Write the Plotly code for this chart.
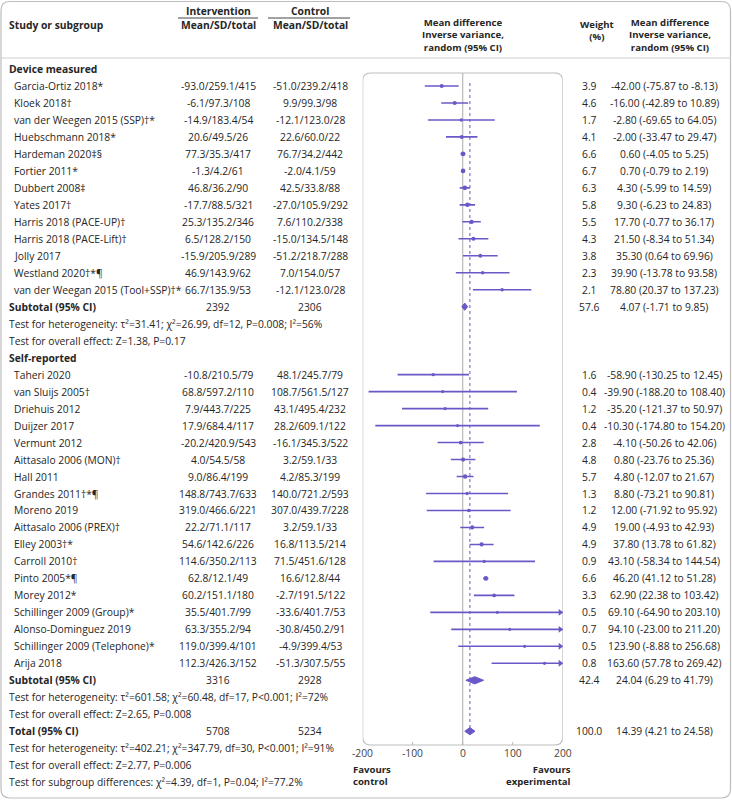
import plotly.graph_objects as go

W, H = 732, 800
FONT = "Open Sans"
FS = 10.3
FS_H = 9.6
TXT = "#262626"
PURPLE = "#6b58c8"

# ---------------- data ----------------
dev_names = ["Garcia-Ortiz 2018*", "Kloek 2018†", "van der Weegen 2015 (SSP)†*", "Huebschmann 2018*",
             "Hardeman 2020‡§", "Fortier 2011*", "Dubbert 2008‡", "Yates 2017†", "Harris 2018 (PACE-UP)†",
             "Harris 2018 (PACE-Lift)†", "Jolly 2017", "Westland 2020†*¶", "van der Weegan 2015 (Tool+SSP)†*"]
dev_int_mean = [-93.0, -6.1, -14.9, 20.6, 77.3, -1.3, 46.8, -17.7, 25.3, 6.5, -15.9, 46.9, 66.7]
dev_int_sd = [259.1, 97.3, 183.4, 49.5, 35.3, 4.2, 36.2, 88.5, 135.2, 128.2, 205.9, 143.9, 135.9]
dev_int_n = [415, 108, 54, 26, 417, 61, 90, 321, 346, 150, 289, 62, 53]
dev_ctl_mean = [-51.0, 9.9, -12.1, 22.6, 76.7, -2.0, 42.5, -27.0, 7.6, -15.0, -51.2, 7.0, -12.1]
dev_ctl_sd = [239.2, 99.3, 123.0, 60.0, 34.2, 4.1, 33.8, 105.9, 110.2, 134.5, 218.7, 154.0, 123.0]
dev_ctl_n = [418, 98, 28, 22, 442, 59, 88, 292, 338, 148, 288, 57, 28]
dev_weight = [3.9, 4.6, 1.7, 4.1, 6.6, 6.7, 6.3, 5.8, 5.5, 4.3, 3.8, 2.3, 2.1]
dev_md = [-42.00, -16.00, -2.80, -2.00, 0.60, 0.70, 4.30, 9.30, 17.70, 21.50, 35.30, 39.90, 78.80]
dev_lo = [-75.87, -42.89, -69.65, -33.47, -4.05, -0.79, -5.99, -6.23, -0.77, -8.34, 0.64, -13.78, 20.37]
dev_hi = [-8.13, 10.89, 64.05, 29.47, 5.25, 2.19, 14.59, 24.83, 36.17, 51.34, 69.96, 93.58, 137.23]
dev_sub = dict(n_int=2392, n_ctl=2306, weight=57.6, md=4.07, lo=-1.71, hi=9.85)
dev_het = "Test for heterogeneity: τ²=31.41; χ²=26.99, df=12, P=0.008; I²=56%"
dev_eff = "Test for overall effect: Z=1.38, P=0.17"

sr_names = ["Taheri 2020", "van Sluijs 2005†", "Driehuis 2012", "Duijzer 2017", "Vermunt 2012",
            "Aittasalo 2006 (MON)†", "Hall 2011", "Grandes 2011†*¶", "Moreno 2019", "Aittasalo 2006 (PREX)†",
            "Elley 2003†*", "Carroll 2010†", "Pinto 2005*¶", "Morey 2012*", "Schillinger 2009 (Group)*",
            "Alonso-Dominguez 2019", "Schillinger 2009 (Telephone)*", "Arija 2018"]
sr_int_mean = [-10.8, 68.8, 7.9, 17.9, -20.2, 4.0, 9.0, 148.8, 319.0, 22.2, 54.6, 114.6, 62.8, 60.2, 35.5, 63.3, 119.0, 112.3]
sr_int_sd = [210.5, 597.2, 443.7, 684.4, 420.9, 54.5, 86.4, 743.7, 466.6, 71.1, 142.6, 350.2, 12.1, 151.1, 401.7, 355.2, 399.4, 426.3]
sr_int_n = [79, 110, 225, 117, 543, 58, 199, 633, 221, 117, 226, 113, 49, 180, 99, 94, 101, 152]
sr_ctl_mean = [48.1, 108.7, 43.1, 28.2, -16.1, 3.2, 4.2, 140.0, 307.0, 3.2, 16.8, 71.5, 16.6, -2.7, -33.6, -30.8, -4.9, -51.3]
sr_ctl_sd = [245.7, 561.5, 495.4, 609.1, 345.3, 59.1, 85.3, 721.2, 439.7, 59.1, 113.5, 451.6, 12.8, 191.5, 401.7, 450.2, 399.4, 307.5]
sr_ctl_n = [79, 127, 232, 122, 522, 33, 199, 593, 228, 33, 214, 128, 44, 122, 53, 91, 53, 55]
sr_weight = [1.6, 0.4, 1.2, 0.4, 2.8, 4.8, 5.7, 1.3, 1.2, 4.9, 4.9, 0.9, 6.6, 3.3, 0.5, 0.7, 0.5, 0.8]
sr_md = [-58.90, -39.90, -35.20, -10.30, -4.10, 0.80, 4.80, 8.80, 12.00, 19.00, 37.80, 43.10, 46.20, 62.90, 69.10, 94.10, 123.90, 163.60]
sr_lo = [-130.25, -188.20, -121.37, -174.80, -50.26, -23.76, -12.07, -73.21, -71.92, -4.93, 13.78, -58.34, 41.12, 22.38, -64.90, -23.00, -8.88, 57.78]
sr_hi = [12.45, 108.40, 50.97, 154.20, 42.06, 25.36, 21.67, 90.81, 95.92, 42.93, 61.82, 144.54, 51.28, 103.42, 203.10, 211.20, 256.68, 269.42]
sr_sub = dict(n_int=3316, n_ctl=2928, weight=42.4, md=24.04, lo=6.29, hi=41.79)
sr_het = "Test for heterogeneity: τ²=601.58; χ²=60.48, df=17, P<0.001; I²=72%"
sr_eff = "Test for overall effect: Z=2.65, P=0.008"

total = dict(n_int=5708, n_ctl=5234, weight=100.0, md=14.39, lo=4.21, hi=24.58)
tot_het = "Test for heterogeneity: τ²=402.21; χ²=347.79, df=30, P<0.001; I²=91%"
tot_eff = "Test for overall effect: Z=2.77, P=0.006"
subgroup_diff = "Test for subgroup differences: χ²=4.39, df=1, P=0.04; I²=77.2%"

x_ticks = [-200, -100, 0, 100, 200]
x_min, x_max = -200, 200

# ---------------- layout helpers ----------------
Y0, PITCH = 69.0, 16.98
def ry(r):
    return Y0 + PITCH * r

def px(x):
    return x / W

annots = []
def text(x, y, s, anchor="left", bold=False, size=FS, color=TXT, align="left"):
    annots.append(dict(x=px(x), y=y, xref="paper", yref="y", text=("<b>%s</b>" % s) if bold else s,
                       showarrow=False, xanchor=anchor, yanchor="middle", align=align,
                       font=dict(family=FONT, size=size, color=color)))

X_NAME, X_HEAD, X_INT, X_CTL, X_W, X_EST = 12, 7, 218, 310, 589, 664

fig = go.Figure()

def fmt_est(m, l, h):
    return "%.2f (%.2f to %.2f)" % (m, l, h)

def add_studies(start_row, names, im, isd, inn, cm, csd, cn, w, md, lo, hi):
    for i, nm in enumerate(names):
        r = start_row + i
        y = ry(r)
        text(X_NAME, y, nm)
        text(X_INT, y, "%.1f/%.1f/%d" % (im[i], isd[i], inn[i]), anchor="center")
        text(X_CTL, y, "%.1f/%.1f/%d" % (cm[i], csd[i], cn[i]), anchor="center")
        text(X_W, y, "%.1f" % w[i], anchor="center")
        text(X_EST, y, fmt_est(md[i], lo[i], hi[i]), anchor="center")
        h = min(hi[i], x_max)
        l = max(lo[i], x_min)
        fig.add_trace(go.Scatter(x=[l, h], y=[y, y], mode="lines",
                                 line=dict(color=PURPLE, width=1.6), hoverinfo="skip", showlegend=False))
        fig.add_trace(go.Scatter(x=[md[i]], y=[y], mode="markers",
                                 marker=dict(color=PURPLE, size=3 + 0.25 * w[i], symbol="circle"),
                                 hoverinfo="skip", showlegend=False))
        if hi[i] > x_max:
            fig.add_trace(go.Scatter(x=[x_max - 5], y=[y], mode="markers",
                                     marker=dict(color=PURPLE, size=6, symbol="triangle-right"),
                                     hoverinfo="skip", showlegend=False))

def add_summary(r, label, d):
    y = ry(r)
    text(X_HEAD, y, label, bold=True)
    text(X_INT, y, "%d" % d["n_int"], anchor="center")
    text(X_CTL, y, "%d" % d["n_ctl"], anchor="center")
    text(X_W, y, "%.1f" % d["weight"], anchor="center")
    text(X_EST, y, fmt_est(d["md"], d["lo"], d["hi"]), anchor="center")
    hh = 3.6
    fig.add_trace(go.Scatter(x=[d["lo"], d["md"], d["hi"], d["md"], d["lo"]],
                             y=[y, y - hh, y, y + hh, y], mode="lines", fill="toself",
                             fillcolor=PURPLE, line=dict(color=PURPLE, width=1),
                             hoverinfo="skip", showlegend=False))

# header
text(X_HEAD, 25, "Study or subgroup", bold=True)
text(X_INT, 11, "Intervention", anchor="center", bold=True)
text(X_INT, 25, "Mean/SD/total", anchor="center", bold=True)
text(X_CTL, 11, "Control", anchor="center", bold=True)
text(X_CTL, 25, "Mean/SD/total", anchor="center", bold=True)
hdr = "<b>Mean difference<br>Inverse variance,<br>random (95% CI)</b>"
for xc in (463, 670):
    annots.append(dict(x=px(xc), y=35, xref="paper", yref="y", text=hdr, showarrow=False,
                       xanchor="center", yanchor="middle", align="center",
                       font=dict(family=FONT, size=FS_H, color=TXT)))
annots.append(dict(x=px(597), y=30, xref="paper", yref="y", text="<b>Weight<br>(%)</b>", showarrow=False,
                   xanchor="center", yanchor="middle", align="center",
                   font=dict(family=FONT, size=FS_H, color=TXT)))

# sections
text(X_HEAD, ry(0), "Device measured", bold=True)
add_studies(1, dev_names, dev_int_mean, dev_int_sd, dev_int_n, dev_ctl_mean, dev_ctl_sd, dev_ctl_n,
            dev_weight, dev_md, dev_lo, dev_hi)
add_summary(14, "Subtotal (95% CI)", dev_sub)
text(X_HEAD, ry(15), dev_het)
text(X_HEAD, ry(16), dev_eff)
text(X_HEAD, ry(17), "Self-reported", bold=True)
add_studies(18, sr_names, sr_int_mean, sr_int_sd, sr_int_n, sr_ctl_mean, sr_ctl_sd, sr_ctl_n,
            sr_weight, sr_md, sr_lo, sr_hi)
add_summary(36, "Subtotal (95% CI)", sr_sub)
text(X_HEAD, ry(37), sr_het)
text(X_HEAD, ry(38), sr_eff)
add_summary(39, "Total (95% CI)", total)
text(X_HEAD, ry(40), tot_het)
text(X_HEAD, ry(41), tot_eff)
text(X_HEAD, ry(42), subgroup_diff)

# x tick labels
for t in x_ticks:
    annots.append(dict(x=t, y=753, xref="x", yref="y", text=str(t), showarrow=False,
                       xanchor="center", yanchor="middle", font=dict(family=FONT, size=FS, color="#444")))
annots.append(dict(x=px(351), y=775, xref="paper", yref="y", text="<b>Favours<br>control</b>",
                   showarrow=False, xanchor="left", yanchor="middle", align="left",
                   font=dict(family=FONT, size=FS_H, color=TXT)))
annots.append(dict(x=px(573), y=775, xref="paper", yref="y", text="<b>Favours<br>experimental</b>",
                   showarrow=False, xanchor="right", yanchor="middle", align="right",
                   font=dict(family=FONT, size=FS_H, color=TXT)))

shapes = []
def rrect_paper(x0, y0, x1, y1, rad):
    X0, X1 = px(x0), px(x1)
    rx = rad / W
    return ("M %f %f L %f %f Q %f %f %f %f L %f %f Q %f %f %f %f L %f %f Q %f %f %f %f L %f %f Q %f %f %f %f Z" % (
        X0 + rx, y0, X1 - rx, y0, X1, y0, X1, y0 + rad, X1, y1 - rad, X1, y1, X1 - rx, y1,
        X0 + rx, y1, X0, y1, X0, y1 - rad, X0, y0 + rad, X0, y0, X0 + rx, y0))
shapes.append(dict(type="path", xref="paper", yref="y", path=rrect_paper(1, 1.5, 730.5, 798, 9),
                   line=dict(color="#bdbdbd", width=1.2)))
shapes.append(dict(type="line", xref="paper", yref="y", x0=px(1), x1=px(730.5), y0=58, y1=58,
                   line=dict(color="#cccccc", width=1)))
shapes.append(dict(type="line", xref="paper", yref="y", x0=px(178), x1=px(258), y0=18, y1=18,
                   line=dict(color="#444", width=1)))
shapes.append(dict(type="line", xref="paper", yref="y", x0=px(268), x1=px(350), y0=18, y1=18,
                   line=dict(color="#444", width=1)))
BT, BB = 73, 745
rxd = 8 * (x_max - x_min) / 200.0
rad = 8
box_path = ("M %f %f L %f %f Q %f %f %f %f L %f %f Q %f %f %f %f L %f %f Q %f %f %f %f L %f %f Q %f %f %f %f Z" % (
    x_min + rxd, BT, x_max - rxd, BT, x_max, BT, x_max, BT + rad, x_max, BB - rad, x_max, BB, x_max - rxd, BB,
    x_min + rxd, BB, x_min, BB, x_min, BB - rad, x_min, BT + rad, x_min, BT, x_min + rxd, BT))
shapes.append(dict(type="path", xref="x", yref="y", path=box_path, line=dict(color="#bdbdbd", width=1.2),
                   layer="below"))
shapes.append(dict(type="line", xref="x", yref="y", x0=0, x1=0, y0=BT, y1=BB,
                   line=dict(color="#b8b8b8", width=1.2), layer="below"))
for t in x_ticks[1:-1]:
    shapes.append(dict(type="line", xref="x", yref="y", x0=t, x1=t, y0=BB - 3, y1=BB,
                       line=dict(color="#b8b8b8", width=1), layer="below"))
shapes.append(dict(type="line", xref="x", yref="y", x0=total["md"], x1=total["md"], y0=83, y1=ry(39),
                   line=dict(color=PURPLE, width=1, dash="dot"), layer="below"))

fig.update_layout(
    width=W, height=H, margin=dict(l=0, r=0, t=0, b=0),
    paper_bgcolor="white", plot_bgcolor="rgba(0,0,0,0)",
    xaxis=dict(domain=[362.7 / W, 562.7 / W], range=[x_min, x_max], visible=False, fixedrange=True),
    yaxis=dict(domain=[0, 1], range=[H, 0], visible=False, fixedrange=True),
    annotations=annots, shapes=shapes, showlegend=False,
)
fig.write_html("out.html", config=dict(displayModeBar=False),
               post_script="document.body.style.margin='0';document.body.style.overflow='hidden';")
